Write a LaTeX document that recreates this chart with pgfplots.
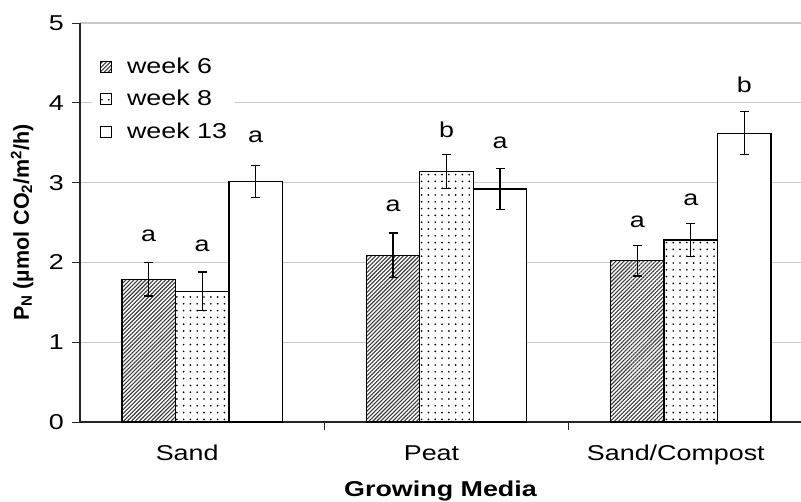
\documentclass[border=0pt]{standalone}
\usepackage{fontspec}
\setmainfont{Liberation Sans}[FakeStretch=1.25]
\newfontfamily\plainfont{Liberation Sans}
\usepackage{pgfplots}
\pgfplotsset{compat=1.18}
\usetikzlibrary{patterns.meta}
\definecolor{hatchgray}{RGB}{60,60,60}
\definecolor{gridgray}{RGB}{200,200,200}
\newcommand{\lf}{\fontsize{21.5}{26}\selectfont}
\begin{document}
\begin{tikzpicture}
\begin{axis}[
  at={(80pt,79pt)}, anchor=south west,
  scale only axis, width=733pt, height=399pt,
  xmin=-0.5, xmax=2.5, ymin=0, ymax=5,
  axis x line=bottom, axis y line=left,
  axis line style={-, line width=1.1pt, black!85},
  ybar=0pt, bar width=53.5pt,
  ytick={0,1,2,3,4,5},
  xtick={0.5,1.5,2.5}, xticklabels={},
  extra x ticks={0,1,2},
  extra x tick labels={Sand,Peat,Sand/Compost},
  extra x tick style={major tick length=0pt},
  tick align=outside, major tick length=8pt,
  tick style={line width=1pt, black!85},
  ymajorgrids, grid style={gridgray, line width=1.2pt},
  /pgf/number format/assume math mode=true,
  ticklabel style={font=\lf, inner sep=0pt},
  yticklabel style={anchor=east, xshift=-8pt},
  xticklabel style={anchor=north, text height=15.5pt, yshift=-23pt, xshift=-15pt},
  xlabel={\bfseries Growing Media},
  xlabel style={font=\lf, at={(0.4918,0)}, anchor=north, yshift=-59pt, inner sep=0pt},
  ylabel={\plainfont\bfseries P\textsubscript{N} (µmol CO\textsubscript{2}/m\textsuperscript{2}/h)},
  ylabel style={font=\fontsize{21.5}{25}\selectfont, at={(0,0.5)}, anchor=center, rotate=0, yshift=58pt, inner sep=0pt},
  legend cell align=left,
  legend image code/.code={\draw[#1, line width=0.8pt] (0pt,-7pt) rectangle (11pt,4pt);},
  legend style={at={(0.0164,0.935)}, anchor=north west, draw=none, fill=white,
    inner sep=8pt, row sep=16.5pt, column sep=15pt, font=\lf,
    nodes={inner sep=0pt, text height=16pt, text depth=0pt}},
  error bars/y dir=both, error bars/y explicit,
  error bars/error bar style={line width=1.3pt, black},
  error bars/error mark options={rotate=90, mark size=4.5pt, line width=1.3pt, black},
]
\addplot[draw=black, line width=1.2pt, fill=white,
  postaction={pattern={Lines[angle=45,distance=2.8pt,line width=1.1pt]}, pattern color=hatchgray}]
  coordinates {(0,1.79) +- (0,0.21) (1,2.09) +- (0,0.28) (2,2.02) +- (0,0.19)};
\addlegendentry{week 6}
\addplot[draw=black, line width=1.2pt, fill=white,
  postaction={pattern={Dots[distance=6.8pt,radius=0.95pt]}, pattern color=black}]
  coordinates {(0,1.64) +- (0,0.24) (1,3.14) +- (0,0.21) (2,2.28) +- (0,0.21)};
\addlegendentry{week 8}
\addplot[draw=black, line width=1.2pt, fill=white]
  coordinates {(0,3.01) +- (0,0.20) (1,2.92) +- (0,0.26) (2,3.62) +- (0,0.27)};
\addlegendentry{week 13}
\begin{scope}[every node/.style={font=\lf, inner sep=0pt, anchor=center}]
\node at (axis cs:-0.219,2.33) {a};
\node at (axis cs:0,2.21) {a};
\node at (axis cs:0.219,3.57) {a};
\node at (axis cs:0.781,2.71) {a};
\node at (axis cs:1,3.66) {b};
\node at (axis cs:1.219,3.50) {a};
\node at (axis cs:1.781,2.51) {a};
\node at (axis cs:2,2.79) {a};
\node at (axis cs:2.219,4.23) {b};
\end{scope}
\end{axis}
\pgfresetboundingbox
\path[use as bounding box] (0,0) rectangle (801pt,501pt);
\end{tikzpicture}
\end{document}
